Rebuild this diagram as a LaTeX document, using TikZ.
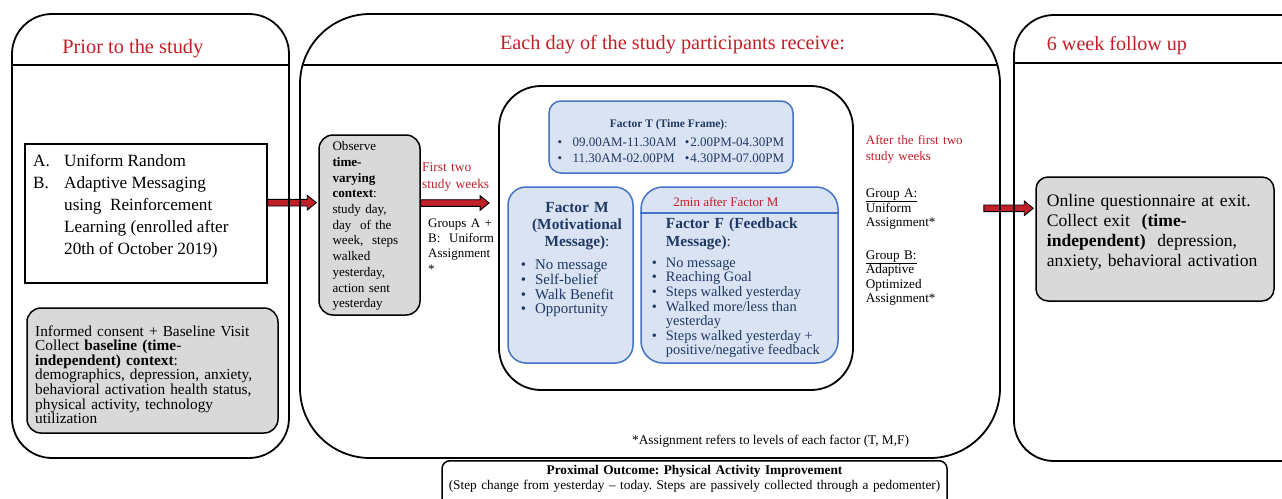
\documentclass[tikz,border=0pt]{standalone}
\usepackage{fontspec}
\setmainfont{Liberation Serif}
\usetikzlibrary{positioning, calc, backgrounds}

\definecolor{titlered}{RGB}{196,30,40}
\definecolor{arrowred}{RGB}{192,32,40}
\definecolor{boxgray}{RGB}{217,217,217}
\definecolor{factorfill}{RGB}{218,227,243}
\definecolor{factorline}{RGB}{68,114,196}
\definecolor{factortext}{RGB}{31,56,100}
\newcommand{\fsz}[2]{\fontsize{#1}{#2}\selectfont}
\frenchspacing

\begin{document}
\begin{tikzpicture}[
    x=1pt, y=-1pt,        % pixel grid, y grows downwards
    panel/.style={draw, line width=1.8pt, rounded corners=#1, inner sep=0pt},
    headline/.style={line width=1.2pt},
    graybox/.style={draw, fill=boxgray, line width=1.5pt, rounded corners=#1, inner sep=0pt},
    factorbox/.style={draw=factorline, fill=factorfill, line width=1.5pt, rounded corners=#1, inner sep=0pt},
    plainbox/.style={draw, line width=1.3pt, inner sep=0pt},
    txt/.style={inner sep=0pt, anchor=base west},
    redtxt/.style={txt, text=titlered},
    navytxt/.style={txt, text=factortext},
    fatarrow/.style={draw=black, line width=0.9pt, fill=arrowred,
      to path={let \p1=(\tikztostart), \p2=(\tikztotarget) in
        (\x1,\y1+3.3) -- (\x2-9,\y1+3.3) -- (\x2-9,\y1+7.3) -- (\x2,\y1)
        -- (\x2-9,\y1-7.3) -- (\x2-9,\y1-3.3) -- (\x1,\y1-3.3) -- cycle}}
  ]
  \useasboundingbox (0,0) rectangle (1282,498);
  \clip (0,0) rectangle (1282,498);

  % --- PANELS ---
  \node[panel=40pt, minimum width=277pt, minimum height=444pt] (prior) at (150.5,236) {};
  \node[panel=70pt, minimum width=700pt, minimum height=444pt] (daily) at (650,236) {};
  \node[panel=40pt, minimum width=316pt, minimum height=446pt] (follow) at (1172,238) {};

  \draw[headline] (prior.west |- 0,65) -- (prior.east |- 0,65);
  \draw[headline] ($(daily.west |- 0,65)+(2.5,0)$) -- ($(daily.east |- 0,65)+(-2.5,0)$);
  \draw[headline] (follow.west |- 0,63) -- (follow.east |- 0,63);

  \node[redtxt, anchor=base, font=\fsz{20.4}{24}] (priortitle) at (132.8,53.3) {Prior to the study};
  \node[redtxt, anchor=base, font=\fsz{20.3}{24}] (dailytitle) at (672.5,49) {Each day of the study participants receive:};
  \node[redtxt, font=\fsz{20.1}{24}] (followtitle) at (1046.7,50.7) {6 week follow up};

  % --- PRIOR TO THE STUDY ---
  \node[plainbox, minimum width=242pt, minimum height=139pt] (groups) at (146,213.5) {};
  \node[txt, font=\fsz{17.2}{22}] (grouplist) at (33,166) {\begin{tabular}[t]{@{}p{31pt}@{}l@{}}
    A. & Uniform Random\\
    B. & Adaptive Messaging\\
       & using~ Reinforcement\\
       & Learning (enrolled after\\
       & 20th of October 2019)
  \end{tabular}};

  \node[graybox=14pt, minimum width=251pt, minimum height=125pt] (intake) at (152.5,370.5) {};
  \node[txt, align=left, text width=245pt, font=\fsz{15.3}{14.6}] (intaketext) at (35,336)
    {Informed consent + Baseline Visit\\ Collect \textbf{baseline (time-}\\ \textbf{independent) context}:\\
     demographics, depression, anxiety,\\ behavioral activation health status,\\ physical activity, technology\\ utilization};

  % --- EACH DAY ---
  \node[graybox=14pt, minimum width=101pt, minimum height=180pt] (observe) at (369.5,225) {};
  \node[txt, align=left, text width=80pt, font=\fsz{13.1}{15.7}] (observetext) at (332.3,150.7)
    {Observe\\ \textbf{time-}\\ \textbf{varying}\\ \textbf{context}:\\ study day,\\ day~ of the\\ week,~ steps\\ walked\\ yesterday,\\ action sent\\ yesterday};

  \node[redtxt, align=left, text width=75pt, font=\fsz{13.4}{16.7}] (twoweeks) at (422,171.7) {First two\\ study weeks};
  \node[txt, align=left, text width=75pt, font=\fsz{13}{15.3}] (uniformab) at (428,227.3) {Groups A +\\ B:~ Uniform\\ Assignment\\ {*}};

  \node[panel=42pt, minimum width=354pt, minimum height=304pt] (factors) at (676,238) {};

  % Factor T
  \node[factorbox=12pt, minimum width=244pt, minimum height=72pt] (factort) at (671,137) {};
  \node[navytxt, anchor=base, font=\fsz{11.5}{14}] (factorttitle) at (668.7,127.7) {\textbf{Factor T (Time Frame)}:};
  \node[navytxt, font=\fsz{13}{16}] (factortlist) at (557.3,146) {\begin{tabular}[t]{@{}l@{\hspace{8pt}}l@{}}
    \textbullet\hspace{10.5pt}09.00AM-11.30AM & \textbullet\hspace{1pt}2.00PM-04.30PM\\
    \textbullet\hspace{10.5pt}11.30AM-02.00PM & \textbullet\hspace{1pt}4.30PM-07.00PM
  \end{tabular}};

  % Factor M
  \node[factorbox=18pt, minimum width=125pt, minimum height=176pt] (factorm) at (570.5,275) {};
  \node[navytxt, anchor=base, align=center, text width=120pt, font=\bfseries\fsz{15.4}{17}] (factormtitle) at (577,212.7)
    {Factor M\\ (Motivational\\ Message)\textmd{:}};
  \node[navytxt, font=\fsz{14.9}{14.7}] (factormlist) at (520.7,269.3) {\begin{tabular}[t]{@{}p{14.3pt}@{}l@{}}
    \textbullet & No message\\ \textbullet & Self-belief\\ \textbullet & Walk Benefit\\ \textbullet & Opportunity
  \end{tabular}};

  % Factor F
  \node[factorbox=22pt, minimum width=197pt, minimum height=176pt] (factorf) at (739.5,275) {};
  \draw[factorline, line width=1.5pt] (factorf.west |- 0,213) -- (factorf.east |- 0,213);
  \node[redtxt, anchor=base, font=\fsz{13}{15}] (factorfnote) at (725.8,206) {2min after Factor M};
  \node[navytxt, align=left, text width=170pt, font=\bfseries\fsz{15.4}{18}] (factorftitle) at (665.7,228.7)
    {Factor F (Feedback\\ Message)\textmd{:}};
  \node[navytxt, font=\fsz{14.4}{14.6}] (factorflist) at (651.7,267.3) {\begin{tabular}[t]{@{}p{14pt}@{}l@{}}
    \textbullet & No message\\ \textbullet & Reaching Goal\\ \textbullet & Steps walked yesterday\\
    \textbullet & Walked more/less than\\ & yesterday\\
    \textbullet & Steps walked yesterday +\\ & positive/negative feedback
  \end{tabular}};

  % after the first two weeks
  \node[redtxt, align=left, text width=110pt, font=\fsz{13}{16.7}] (latertitle) at (865.7,144) {After the first two\\ study weeks};
  \node[txt, align=left, text width=100pt, font=\fsz{13.2}{14}] (groupa) at (865.7,197.3) {\underline{Group A:}\\ Uniform\\ Assignment*};
  \node[txt, align=left, text width=100pt, font=\fsz{13.2}{14.4}] (groupb) at (865.7,259.3) {\underline{Group B:}\\ Adaptive\\ Optimized\\ Assignment*};

  \node[txt, font=\fsz{13.3}{16}] (footnote) at (632,444) {*Assignment refers to levels of each factor (T, M,F)};

  % --- FOLLOW UP ---
  \node[graybox=12pt, minimum width=238pt, minimum height=124pt] (exit) at (1155,239) {};
  \node[txt, align=left, text width=228pt, font=\fsz{17.6}{20.2}] (exittext) at (1046.7,206)
    {Online questionnaire at exit.\\ Collect exit~ \textbf{(time-}\\ \textbf{independent)}~ depression,\\ anxiety, behavioral activation};

  % --- OUTCOME ---
  \node[draw, line width=1.5pt, rounded corners=8pt, anchor=north, minimum width=505pt, minimum height=50pt, inner sep=0pt] (outcome) at (694.5,460) {};
  \node[txt, anchor=base, align=center, text width=520pt, font=\fsz{13.3}{15}] (outcometext) at (694.5,474)
    {\textbf{Proximal Outcome: Physical Activity Improvement}\\ (Step change from yesterday – today. Steps are passively collected through a pedomenter)};

  % --- ARROWS ---
  \begin{pgfonlayer}{background}
    \draw[fatarrow] ([yshift=10.8pt]groups.east) to ([xshift=-2pt]observe.west);
    \draw[fatarrow] ([yshift=22pt]observe.east) to ([xshift=-9pt]factors.west);
    \draw[fatarrow] ([xshift=-17pt,yshift=27.7pt]daily.east) to ([xshift=-2pt]exit.west);
  \end{pgfonlayer}

\end{tikzpicture}
\end{document}
